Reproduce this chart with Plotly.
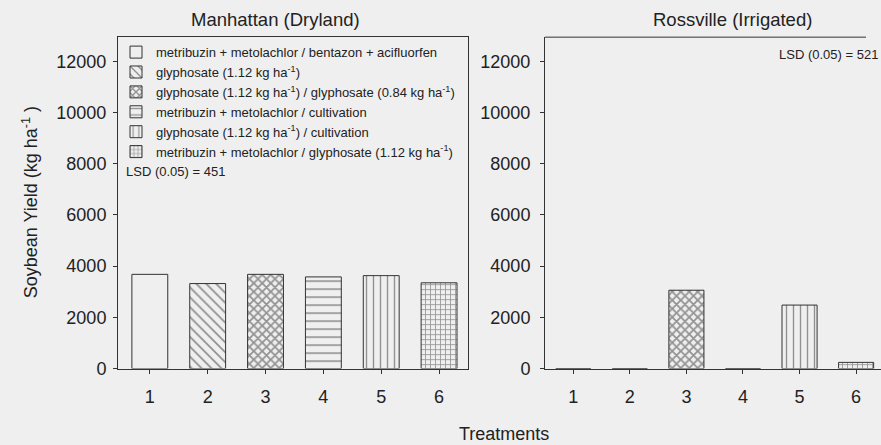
import plotly.graph_objects as go

treatments = [1, 2, 3, 4, 5, 6]
manhattan_yield = [3680, 3320, 3680, 3580, 3630, 3350]
rossville_yield = [0, 0, 3060, 0, 2480, 240]
legend_labels = [
    "metribuzin + metolachlor / bentazon + acifluorfen",
    "glyphosate (1.12 kg ha<sup>-1</sup>)",
    "glyphosate (1.12 kg ha<sup>-1</sup>) / glyphosate (0.84 kg ha<sup>-1</sup>)",
    "metribuzin + metolachlor / cultivation",
    "glyphosate (1.12 kg ha<sup>-1</sup>) / cultivation",
    "metribuzin + metolachlor / glyphosate (1.12 kg ha<sup>-1</sup>)",
]
tick_labels = ["1", "2", "3", "4", "5", "6"]
y_ticks = [0, 2000, 4000, 6000, 8000, 10000, 12000]
y_tick_labels = ["0", "2000", "4000", "6000", "8000", "10000", "12000"]

patterns = ["", "\\", "x", "-", "|", "+"]
pat_sizes = [8, 7, 6, 8, 7, 5]
pat_solid = [0.2, 0.25, 0.5, 0.2, 0.2, 0.3]

BG = "#efefef"
INK = "#333333"
FONT = "Liberation Sans, Arial, sans-serif"

fig = go.Figure()
for i, t in enumerate(treatments):
    for xa, ya, vals, show in (("x", "y", manhattan_yield, True), ("x2", "y2", rossville_yield, False)):
        fig.add_trace(go.Bar(
            x=[t], y=[vals[i]], xaxis=xa, yaxis=ya, width=0.62,
            name=legend_labels[i], legendgroup=str(t), showlegend=show,
            marker=dict(color=BG, line=dict(color=INK, width=1),
                        pattern=dict(shape=patterns[i], fgcolor=INK, bgcolor=BG,
                                     size=pat_sizes[i], solidity=pat_solid[i])),
        ))

W, H = 881, 445
def px(x): return x / W
def py(y): return 1 - y / H

axis_common = dict(showline=True, linecolor=INK, linewidth=1, ticks="outside",
                   ticklen=4, tickcolor=INK, showgrid=False, zeroline=False,
                   tickfont=dict(size=18, color="#222", family=FONT))

fig.update_layout(
    width=W, height=H, margin=dict(l=0, r=0, t=0, b=0),
    paper_bgcolor=BG, plot_bgcolor=BG, barmode="overlay",
    font=dict(family=FONT, color="#222"),
    xaxis=dict(domain=[px(118), px(468)], range=[0.45, 6.5], tickvals=treatments,
               ticktext=tick_labels, mirror=True, anchor="y", ticklabelstandoff=8,
               **axis_common),
    yaxis=dict(domain=[py(377), py(38)], range=[0, 12950], tickvals=y_ticks,
               ticktext=y_tick_labels, mirror=True, anchor="x", ticklabelstandoff=3,
               **axis_common),
    xaxis2=dict(domain=[px(545), 1.0], range=[0.5, 6.44], tickvals=treatments,
                ticktext=tick_labels, anchor="y2", ticklabelstandoff=8, **axis_common),
    yaxis2=dict(domain=[py(377), py(38)], range=[0, 12950], tickvals=y_ticks,
                ticktext=y_tick_labels, anchor="x2", ticklabelstandoff=6, **axis_common),
    legend=dict(x=px(116), y=py(38), xanchor="left", yanchor="top",
                bgcolor="rgba(0,0,0,0)", font=dict(size=13, family=FONT, color="#222"),
                itemwidth=30, tracegroupgap=0),
    shapes=[dict(type="line", xref="paper", yref="paper", x0=px(545), x1=px(866),
                 y0=py(38), y1=py(38), line=dict(color=INK, width=1))],
    annotations=[
        dict(text="Manhattan (Dryland)", x=px(275), y=py(20), xref="paper", yref="paper",
             xanchor="center", yanchor="middle", showarrow=False, font=dict(size=18.5)),
        dict(text="Rossville (Irrigated)", x=px(732), y=py(20), xref="paper", yref="paper",
             xanchor="center", yanchor="middle", showarrow=False, font=dict(size=18.5)),
        dict(text="LSD (0.05) = 451", x=px(124), y=py(175), xref="paper", yref="paper",
             xanchor="left", yanchor="middle", showarrow=False, font=dict(size=13)),
        dict(text="LSD (0.05) = 521", x=px(880), y=py(56), xref="paper", yref="paper",
             xanchor="right", yanchor="middle", showarrow=False, font=dict(size=13)),
        dict(text="Treatments", x=px(504), y=-0.026, xref="paper", yref="paper",
             xanchor="center", yanchor="bottom", showarrow=False, font=dict(size=18)),
        dict(text="Soybean Yield (kg ha<sup>-1</sup> )", x=px(30), y=py(207), xref="paper",
             yref="paper", xanchor="center", yanchor="middle", textangle=-90,
             showarrow=False, font=dict(size=18)),
    ],
)

fig.write_html("out.html")
